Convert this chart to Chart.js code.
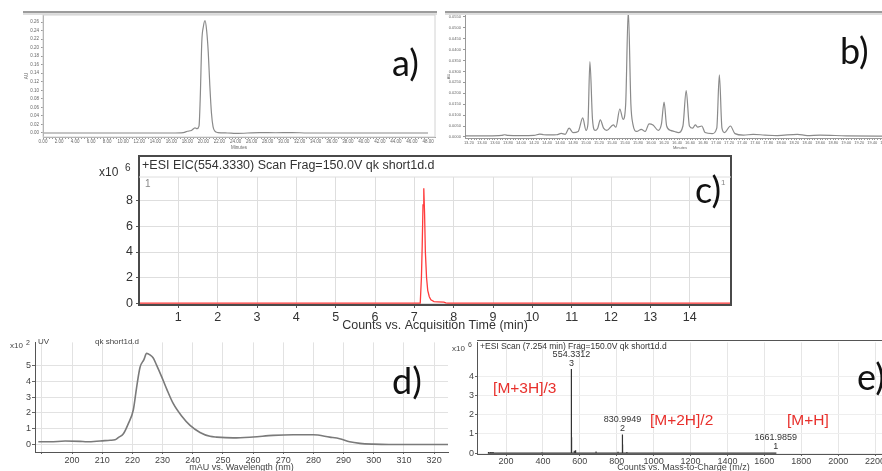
<!DOCTYPE html>
<html lang="en">
<head>
  <meta charset="UTF-8" />
  <title>Peptide purity and identity</title>
  <script src="https://cdn.jsdelivr.net/npm/chart.js"></script>
  <style>
    * { margin: 0; padding: 0; box-sizing: border-box; }
    body {
      width: 882px;
      height: 471px;
      overflow: hidden;
      position: relative;
      background: #fff;
    }
    canvas { position: absolute; }
    .tag {
      position: absolute;
      font-family: Lato, 'Open Sans', sans-serif;
      font-size: 36px;
      line-height: 1;
      color: #111;
    }
  </style>
</head>
<body>
  <canvas id="hplcFull" width="440" height="152" style="left:0;top:0"></canvas>
  <canvas id="hplcZoom" width="460" height="152" style="left:440px;top:0"></canvas>
  <canvas id="eic" width="660" height="185" style="left:85px;top:150px"></canvas>
  <canvas id="uv" width="449" height="137" style="left:0;top:336px"></canvas>
  <canvas id="ms" width="450" height="137" style="left:445px;top:336px"></canvas>

  <div class="tag" style="left:392px;top:44px">a)</div>
  <div class="tag" style="left:840px;top:32px">b)</div>
  <div class="tag" style="left:695px;top:171px">c)</div>
  <div class="tag" style="left:392px;top:362px">d)</div>
  <div class="tag" style="left:857px;top:358px">e)</div>

  <script>
    // a) full HPLC run, absorbance (AU) vs minutes
    const runTime = [0, 16, 17.5, 18, 18.5, 18.95, 19.2, 19.45, 19.6, 19.8, 20.0, 20.2, 20.4, 20.6, 20.8, 21.0, 21.2, 21.4, 21.8, 23, 24, 27, 29, 31, 33, 48];
    const runAbs = [0, 0, 0.001, 0.004, 0.006, 0.012, 0.010, 0.016, 0.08, 0.215, 0.25, 0.263, 0.24, 0.19, 0.11, 0.047, 0.015, 0.005, 0.001, 0, -0.001, 0.001, 0.0005, 0.001, 0, 0];
    const runTicksX = [0, 2, 4, 6, 8, 10, 12, 14, 16, 18, 20, 22, 24, 26, 28, 30, 32, 34, 36, 38, 40, 42, 44, 46, 48];
    const runTicksY = [0, 0.02, 0.04, 0.06, 0.08, 0.10, 0.12, 0.14, 0.16, 0.18, 0.20, 0.22, 0.24, 0.26];

    // b) expanded window of a second run
    const zoomTime = [13.14, 13.5, 13.7, 13.75, 13.8, 14.0, 14.2, 14.29, 14.35, 14.45, 14.55, 14.62, 14.68, 14.74, 14.8, 14.88, 14.95, 15.0, 15.03, 15.06, 15.1, 15.14, 15.18, 15.22, 15.27, 15.32, 15.42, 15.46, 15.52, 15.57, 15.61, 15.65, 15.69, 15.72, 15.78, 15.85, 15.91, 15.97, 16.03, 16.11, 16.16, 16.20, 16.24, 16.30, 16.36, 16.42, 16.49, 16.54, 16.59, 16.64, 16.68, 16.72, 16.78, 16.83, 16.94, 17.01, 17.05, 17.09, 17.13, 17.22, 17.29, 17.42, 17.57, 17.75, 17.94, 18.25, 18.40, 18.60, 19.0, 19.52, 19.75];
    const zoomAbs = [0.0005, 0.0005, 0.0007, 0.0010, 0.0007, 0.0006, 0.0007, 0.0013, 0.0010, 0.0009, 0.0010, 0.0016, 0.0012, 0.0040, 0.0020, 0.0025, 0.0087, 0.0030, 0.0060, 0.0345, 0.0080, 0.0030, 0.0040, 0.0078, 0.0040, 0.0030, 0.0055, 0.0045, 0.0128, 0.0080, 0.0150, 0.0580, 0.0150, 0.0060, 0.0025, 0.0035, 0.0025, 0.0060, 0.0055, 0.0030, 0.0060, 0.0160, 0.0050, 0.0030, 0.0025, 0.0020, 0.0050, 0.0212, 0.0050, 0.0040, 0.0055, 0.0045, 0.0050, 0.0020, 0.0015, 0.0040, 0.0284, 0.0040, 0.0020, 0.0050, 0.0015, 0.0008, 0.0012, 0.0008, 0.0006, 0.0012, 0.0006, 0.0008, 0.0005, 0.0004, 0.0004];
    const zoomTicksX = [13.2, 13.4, 13.6, 13.8, 14.0, 14.2, 14.4, 14.6, 14.8, 15.0, 15.2, 15.4, 15.6, 15.8, 16.0, 16.2, 16.4, 16.6, 16.8, 17.0, 17.2, 17.4, 17.6, 17.8, 18.0, 18.2, 18.4, 18.6, 18.8, 19.0, 19.2, 19.4, 19.6];
    const zoomTicksY = [0, 0.005, 0.010, 0.015, 0.020, 0.025, 0.030, 0.035, 0.040, 0.045, 0.050, 0.055];

    // c) extracted ion chromatogram, counts x10^6
    const eicTime = [0, 7.15, 7.18, 7.20, 7.22, 7.24, 7.26, 7.28, 7.31, 7.34, 7.38, 7.42, 7.5, 7.6, 7.75, 7.8, 7.85, 15.05];
    const eicCounts = [0, 0, 2.0, 4.5, 7.7, 9.0, 7.0, 4.0, 2.0, 1.0, 0.5, 0.25, 0.12, 0.1, 0.07, 0.02, 0, 0];
    const eicTicksX = [1, 2, 3, 4, 5, 6, 7, 8, 9, 10, 11, 12, 13, 14];
    const eicTicksY = [0, 2, 4, 6, 8];

    // d) UV spectrum, mAU x10^2
    const uvNm = [188.8, 192.7, 197.7, 202.6, 204.9, 209.3, 212.6, 214.2, 215.3, 217, 218.6, 220.3, 221.4, 222.5, 223.8, 224.7, 225.8, 226.9, 228, 229.7, 231.4, 233.5, 236.3, 239.1, 242.4, 245.7, 247.9, 253.4, 260, 266.6, 273.3, 279.9, 285.4, 288.7, 292, 295.4, 299.8, 305, 321.9, 326];
    const uvAbs = [0.15, 0.15, 0.2, 0.18, 0.15, 0.2, 0.25, 0.28, 0.42, 0.67, 1.3, 2.2, 3.65, 4.9, 5.4, 5.8, 5.7, 5.5, 5.05, 4.3, 3.5, 2.6, 1.8, 1.2, 0.75, 0.5, 0.45, 0.4, 0.46, 0.56, 0.6, 0.6, 0.45, 0.35, 0.15, 0.05, 0.0, -0.02, -0.02, -0.02];
    const uvTicksX = [190, 200, 210, 220, 230, 240, 250, 260, 270, 280, 290, 300, 310, 320];
    const uvTicksY = [0, 1, 2, 3, 4, 5];

    // e) mass spectrum at 7.254 min, counts x10^6
    const ionMz = [554.3312, 830.9949, 1661.9859];
    const ionCounts = [4.4, 0.97, 0.03];
    const ionCharge = ['3', '2', '1'];
    const ionNames = ['[M+3H]/3', '[M+2H]/2', '[M+H]'];
    const minorMz = [105, 112, 118, 124, 130, 205, 240, 275, 395, 410, 440, 555.0, 555.67, 570, 576, 578, 688, 807, 831.49, 832.0, 855, 1105];
    const minorCounts = [0.05, 0.04, 0.06, 0.04, 0.05, 0.03, 0.02, 0.03, 0.04, 0.03, 0.03, 0.82, 0.3, 0.12, 0.15, 0.08, 0.08, 0.07, 0.45, 0.15, 0.05, 0.03];
    const msTicksX = [200, 400, 600, 800, 1000, 1200, 1400, 1600, 1800, 2000, 2200];
    const msTicksY = [0, 1, 2, 3, 4];

    const FONT = "'Liberation Sans', Arial, sans-serif";
    Chart.defaults.font.family = FONT;
    Chart.defaults.color = '#333';
    Chart.defaults.animation = false;
    Chart.defaults.responsive = false;
    Chart.defaults.plugins.legend.display = false;
    Chart.defaults.plugins.tooltip.enabled = false;
    Chart.defaults.elements.point.radius = 0;

    const pts = (xs, ys) => xs.map((x, i) => ({ x, y: ys[i] }));
    const fixW = w => s => { s.width = w; };
    const fixH = h => s => { s.height = h; };
    const useTicks = vals => s => { s.ticks = vals.map(v => ({ value: v })); };

    // majors plus four minor marks between each pair
    function withMinor(vals) {
      const out = [];
      vals.forEach((v, i) => {
        out.push(v);
        if (i < vals.length - 1) {
          const d = (vals[i + 1] - v) / 5;
          for (let k = 1; k < 5; k++) out.push(v + d * k);
        }
      });
      return s => { s.ticks = out.map(v => ({ value: v })); };
    }
    const isMajor = (vals, v) => vals.some(m => Math.abs(m - v) < 1e-6);

    // frames, rules and free text drawn on top of each chart
    function decor(spec) {
      return {
        id: 'decor',
        afterDraw(chart) {
          const c = chart.ctx, a = chart.chartArea;
          c.save();
          (spec.fills || []).forEach(f => { c.fillStyle = f.color; c.fillRect(f.x, f.y, f.w, f.h); });
          if (spec.box) {
            c.strokeStyle = spec.box.color;
            c.lineWidth = spec.box.width;
            c.strokeRect(a.left, a.top - (spec.box.above || 0), a.right - a.left, a.bottom - a.top + (spec.box.above || 0));
          }
          (spec.lines || []).forEach(l => {
            c.strokeStyle = l.color; c.lineWidth = l.width;
            c.beginPath(); c.moveTo(l.x1, l.y1); c.lineTo(l.x2, l.y2); c.stroke();
          });
          (spec.texts || []).forEach(t => {
            c.font = `${t.size}px ${FONT}`;
            c.fillStyle = t.color || '#333';
            c.textAlign = t.align || 'left';
            c.textBaseline = 'middle';
            c.fillText(t.text, t.x, t.y);
          });
          c.restore();
        }
      };
    }

    // ---------- a) ----------
    new Chart(document.getElementById('hplcFull'), {
      type: 'line',
      data: { datasets: [{ data: pts(runTime, runAbs), borderColor: '#8a8a8a', borderWidth: 1.2, cubicInterpolationMode: 'monotone' }] },
      options: {
        layout: { padding: { left: 0, top: 15, right: 5, bottom: 0 } },
        scales: {
          x: {
            type: 'linear', min: 0, max: 48.87,
            afterBuildTicks: withMinor(runTicksX), afterFit: fixH(15),
            ticks: { font: { size: 4.5 }, color: '#666', padding: 0.5, autoSkip: false, maxRotation: 0,
              callback: v => isMajor(runTicksX, v) ? v.toFixed(2) : '' },
            grid: { drawOnChartArea: false, tickLength: 2, tickColor: '#999' },
            border: { color: '#999' },
            title: { display: true, text: 'Minutes', font: { size: 4.5 }, color: '#666', padding: { top: 0, bottom: 2 } }
          },
          y: {
            min: -0.0094, max: 0.2764,
            afterBuildTicks: useTicks(runTicksY), afterFit: fixW(43),
            ticks: { font: { size: 4.5 }, color: '#666', padding: 2, callback: v => v.toFixed(2) },
            grid: { drawOnChartArea: false, tickLength: 2, tickColor: '#999' },
            border: { color: '#999' },
            title: { display: true, text: 'AU', font: { size: 4.5 }, color: '#666', padding: { top: 24, bottom: 0 } }
          }
        }
      },
      plugins: [decor({
        box: { color: '#d2d2d2', width: 1 },
        fills: [{ x: 23, y: 11, w: 414, h: 2, color: '#9c9c9c' }, { x: 23, y: 13, w: 414, h: 2, color: '#dedede' }]
      })]
    });

    // ---------- b) ----------
    new Chart(document.getElementById('hplcZoom'), {
      type: 'line',
      data: { datasets: [{ data: pts(zoomTime, zoomAbs), borderColor: '#8a8a8a', borderWidth: 1.2, cubicInterpolationMode: 'monotone' }] },
      options: {
        layout: { padding: { left: 0, top: 15, right: 5, bottom: 0 } },
        scales: {
          x: {
            type: 'linear', min: 13.14, max: 19.75,
            afterBuildTicks: withMinor(zoomTicksX), afterFit: fixH(14),
            ticks: { font: { size: 4 }, color: '#666', padding: 0.5, autoSkip: false, maxRotation: 0,
              callback: v => isMajor(zoomTicksX, v) ? v.toFixed(2) : '' },
            grid: { drawOnChartArea: false, tickLength: 2, tickColor: '#999' },
            border: { color: '#999' },
            title: { display: true, text: 'Minutes', font: { size: 4 }, color: '#666', padding: { top: 0, bottom: 2 } }
          },
          y: {
            min: -0.0005, max: 0.0559,
            afterBuildTicks: useTicks(zoomTicksY), afterFit: fixW(25),
            ticks: { font: { size: 4 }, color: '#666', padding: 2, callback: v => v.toFixed(4) },
            grid: { drawOnChartArea: false, tickLength: 2, tickColor: '#999' },
            border: { color: '#999' },
            title: { display: true, text: 'AU', font: { size: 4 }, color: '#666', padding: { top: 6, bottom: 0 } }
          }
        }
      },
      plugins: [decor({
        fills: [{ x: 5, y: 11, w: 460, h: 2, color: '#9c9c9c' }, { x: 5, y: 13, w: 460, h: 2, color: '#dedede' }]
      })]
    });

    // ---------- c) ----------
    new Chart(document.getElementById('eic'), {
      type: 'line',
      data: { datasets: [{ data: pts(eicTime, eicCounts), borderColor: '#ff3b3b', borderWidth: 1.3 }] },
      options: {
        layout: { padding: { left: 0, top: 27, right: 14, bottom: 0 } },
        scales: {
          x: {
            type: 'linear', min: 0, max: 15.05,
            afterBuildTicks: useTicks(eicTicksX), afterFit: fixH(30),
            ticks: { font: { size: 12.5 }, color: '#333', padding: 2, autoSkip: false, maxRotation: 0 },
            grid: { color: '#dedede', tickLength: 3, tickColor: '#555' },
            border: { display: false },
            title: { display: true, text: 'Counts vs. Acquisition Time (min)', font: { size: 12.5 }, color: '#333', padding: { top: 0, bottom: 1.5 } }
          },
          y: {
            min: -0.15, max: 9.88,
            afterBuildTicks: useTicks(eicTicksY), afterFit: fixW(54),
            ticks: { font: { size: 12.5 }, color: '#333', padding: 3 },
            grid: { color: '#dedede', tickLength: 3, tickColor: '#555' },
            border: { display: false }
          }
        }
      },
      plugins: [decor({
        lines: [{ x1: 54, y1: 27, x2: 646, y2: 27, color: '#dedede', width: 1 }],
        box: { color: '#4a4a4a', width: 2, above: 21 },
        texts: [
          { text: '+ESI EIC(554.3330) Scan Frag=150.0V qk short1d.d', x: 57, y: 16, size: 12.5, color: '#333' },
          { text: 'x10', x: 14, y: 23, size: 12, color: '#333' },
          { text: '6', x: 40, y: 18, size: 10, color: '#333' },
          { text: '1', x: 60, y: 34, size: 10, color: '#888' },
          { text: '1', x: 636, y: 33, size: 8, color: '#888' }
        ]
      })]
    });

    // ---------- d) ----------
    new Chart(document.getElementById('uv'), {
      type: 'line',
      data: { datasets: [{ data: pts(uvNm, uvAbs), borderColor: '#7a7a7a', borderWidth: 1.6, cubicInterpolationMode: 'monotone' }] },
      options: {
        layout: { padding: { left: 0, top: 4, right: 1, bottom: 0 } },
        scales: {
          x: {
            type: 'linear', min: 187.7, max: 324.6,
            afterBuildTicks: useTicks(uvTicksX), afterFit: fixH(21),
            ticks: { font: { size: 9 }, color: '#444', padding: 1.5, autoSkip: false, maxRotation: 0,
              callback: v => v === 190 ? '' : String(v) },
            grid: { color: '#e2e2e2', tickLength: 2, tickColor: '#666' },
            border: { color: '#555' },
            title: { display: true, text: 'mAU vs. Wavelength (nm)', font: { size: 9 }, color: '#444', padding: { top: 0, bottom: 0 } }
          },
          y: {
            min: -0.5, max: 6.5,
            afterBuildTicks: useTicks(uvTicksY), afterFit: fixW(35),
            ticks: { font: { size: 9 }, color: '#444', padding: 1 },
            grid: { color: '#e2e2e2', tickLength: 3, tickColor: '#666' },
            border: { color: '#555' }
          }
        }
      },
      plugins: [decor({
        texts: [
          { text: 'x10', x: 10, y: 10, size: 8, color: '#444' },
          { text: '2', x: 26, y: 7, size: 7, color: '#444' },
          { text: 'UV', x: 38, y: 6, size: 8, color: '#444' },
          { text: 'qk short1d.d', x: 95, y: 6, size: 8, color: '#444' }
        ]
      })]
    });

    // ---------- e) ----------
    const sticks = [];
    ionMz.concat(minorMz).forEach((mz, i) => {
      const h = i < ionMz.length ? ionCounts[i] : minorCounts[i - ionMz.length];
      sticks.push({ x: mz, y: 0 }, { x: mz, y: h }, { x: mz, y: 0 });
    });

    const ionLabels = {
      id: 'ionLabels',
      afterDatasetsDraw(chart) {
        const { ctx, scales: { x, y } } = chart;
        ctx.save();
        ctx.font = `9px ${FONT}`;
        ctx.fillStyle = '#333';
        ctx.textAlign = 'center';
        ctx.textBaseline = 'bottom';
        ionMz.forEach((mz, i) => {
          const px = x.getPixelForValue(mz), top = y.getPixelForValue(ionCounts[i]);
          ctx.fillText(ionCharge[i], px, top - 1);
          ctx.fillText(mz.toFixed(4), px, top - 10);
        });
        // adduct names, anchored in m/z and count units
        const spots = [[130, 3.38], [980, 1.69], [1723, 1.69]];
        ctx.font = `15.5px ${FONT}`;
        ctx.fillStyle = '#e8302c';
        ctx.textAlign = 'left';
        ctx.textBaseline = 'middle';
        ionNames.forEach((t, i) => ctx.fillText(t, x.getPixelForValue(spots[i][0]), y.getPixelForValue(spots[i][1])));
        ctx.restore();
      }
    };

    new Chart(document.getElementById('ms'), {
      type: 'line',
      data: { datasets: [{ data: sticks, borderColor: '#333', borderWidth: 1.2 }] },
      options: {
        layout: { padding: { left: 0, top: 4, right: 5, bottom: 0 } },
        scales: {
          x: {
            type: 'linear', min: 42.8, max: 2281,
            afterBuildTicks: useTicks(msTicksX), afterFit: fixH(19),
            ticks: { font: { size: 9 }, color: '#444', padding: 0.5, autoSkip: false, maxRotation: 0,
              callback: v => String(v) },
            grid: { color: '#e6e6e6', tickLength: 2, tickColor: '#666' },
            border: { color: '#555' },
            title: { display: true, text: 'Counts vs. Mass-to-Charge (m/z)', font: { size: 9 }, color: '#444', padding: { top: 0, bottom: 0 } }
          },
          y: {
            min: -0.05, max: 5.79,
            afterBuildTicks: useTicks(msTicksY), afterFit: fixW(32),
            ticks: { font: { size: 9 }, color: '#444', padding: 1 },
            grid: { color: '#eeeeee', tickLength: 2, tickColor: '#666' },
            border: { color: '#555' }
          }
        }
      },
      plugins: [ionLabels, decor({
        lines: [{ x1: 32, y1: 4.5, x2: 450, y2: 4.5, color: '#555', width: 1 }],
        texts: [
          { text: 'x10', x: 7, y: 13, size: 8, color: '#444' },
          { text: '6', x: 23, y: 9, size: 7, color: '#444' },
          { text: '+ESI Scan (7.254 min) Frag=150.0V qk short1d.d', x: 35, y: 11, size: 8.5, color: '#333' }
        ]
      })]
    });
  </script>
</body>
</html>
